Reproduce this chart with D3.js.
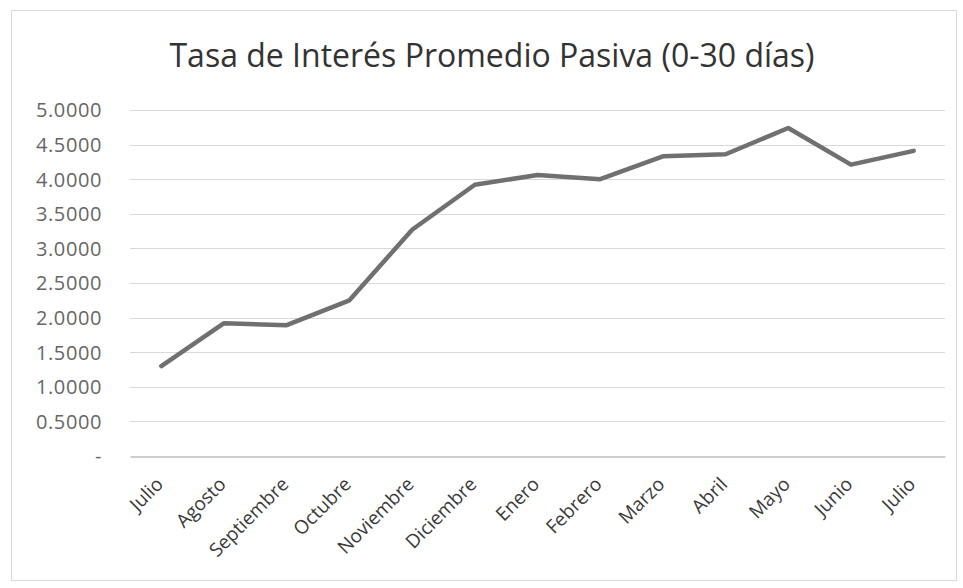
<html lang="es">
<head>
<meta charset="utf-8">
<script src="https://d3js.org/d3.v7.min.js"></script>
<style>
  body { margin: 0; background: #fff; }
  text { font-family: "Open Sans", "Noto Sans", sans-serif; }
</style>
</head>
<body>
<svg id="chart" width="963" height="588"></svg>
<script>
// data
const months = ["Julio", "Agosto", "Septiembre", "Octubre", "Noviembre", "Diciembre",
                "Enero", "Febrero", "Marzo", "Abril", "Mayo", "Junio", "Julio "];
const rates = [1.30, 1.92, 1.89, 2.25, 3.27, 3.92, 4.06, 4.00, 4.33, 4.36, 4.74, 4.21, 4.41];
const yTicks = [0, 0.5, 1, 1.5, 2, 2.5, 3, 3.5, 4, 4.5, 5];
const title = "Tasa de Interés Promedio Pasiva (0-30 días)";

const svg = d3.select("#chart");
const margin = { left: 130, right: 18, top: 110, bottom: 132 };
const width = 963, height = 588;

// outer frame
svg.append("rect")
    .attr("x", 11.5).attr("y", 10.5)
    .attr("width", 945).attr("height", 570)
    .attr("fill", "#fff").attr("stroke", "#d9d9d9");

svg.append("text")
    .attr("x", 492).attr("y", 67)
    .attr("text-anchor", "middle")
    .attr("font-size", 32)
    .attr("fill", "#333")
    .text(title);

const x = d3.scaleBand()
    .domain(months)
    .range([margin.left, width - margin.right]);

const y = d3.scaleLinear()
    .domain([0, 5])
    .range([height - margin.bottom, margin.top]);

// gridlines
svg.append("g")
    .selectAll("line")
    .data(yTicks.filter(d => d > 0))
    .join("line")
    .attr("x1", margin.left).attr("x2", width - margin.right)
    .attr("y1", d => Math.round(y(d)) + 0.5).attr("y2", d => Math.round(y(d)) + 0.5)
    .attr("stroke", "#d9d9d9").attr("stroke-width", 1);

// y axis labels
const yAxis = svg.append("g")
    .attr("transform", `translate(${margin.left - 28},0)`)
    .call(d3.axisLeft(y).tickValues(yTicks).tickSize(0)
        .tickFormat(d => d === 0 ? "-" : d3.format(".4f")(d)));
yAxis.select(".domain").remove();
yAxis.selectAll("text")
    .attr("font-size", 20)
    .attr("font-family", "Open Sans, sans-serif")
    .attr("fill", "#666")
    .attr("letter-spacing", 0.6)
    .attr("x", 0)
    .attr("dy", "0.34em");

// x axis
const xAxis = svg.append("g")
    .attr("transform", `translate(0,${Math.round(y(0)) + 0.5})`)
    .call(d3.axisBottom(x).tickSize(0).tickFormat(d => d.trim()));
xAxis.select(".domain").attr("stroke", "#bfbfbf").attr("stroke-width", 1.5);
xAxis.selectAll("text")
    .attr("font-size", 19)
    .attr("font-family", "Open Sans, sans-serif")
    .attr("fill", "#3a3a3a")
    .attr("text-anchor", "end")
    .attr("y", 0)
    .attr("dy", 0)
    .attr("transform", "translate(3,29) rotate(-45)");

// line
const line = d3.line()
    .x((d, i) => x(months[i]) + x.bandwidth() / 2)
    .y(d => y(d));

svg.append("path")
    .datum(rates)
    .attr("d", line)
    .attr("fill", "none")
    .attr("stroke", "#707070")
    .attr("stroke-width", 4.5)
    .attr("stroke-linejoin", "round")
    .attr("stroke-linecap", "round");
</script>
</body>
</html>
